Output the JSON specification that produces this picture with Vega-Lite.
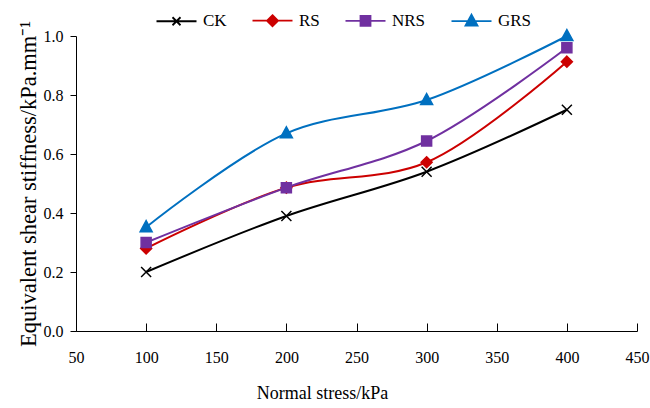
{
  "$schema": "https://vega.github.io/schema/vega-lite/v6.json",
  "width": 561,
  "height": 295,
  "autosize": {"type": "none"},
  "padding": {"left": 76, "top": 36, "right": 13, "bottom": 77},
  "background": "white",
  "config": {
    "view": {"stroke": null},
    "font": "Liberation Serif",
    "axis": {
      "grid": false,
      "domainColor": "#000000",
      "domainWidth": 1,
      "tickColor": "#000000",
      "tickWidth": 1,
      "labelColor": "#000000",
      "titleColor": "#000000",
      "labelFont": "Liberation Serif",
      "titleFont": "Liberation Serif",
      "labelFontSize": 16,
      "titleFontSize": 18,
      "titleFontWeight": "normal"
    },
    "legend": {"labelFont": "Liberation Serif", "labelFontSize": 17, "labelColor": "#000000", "symbolStrokeWidth": 1.8, "symbolOpacity": 1}
  },
  "data": {
    "values": [
      {"stress": 100, "series": "CK", "k": 0.20},
      {"stress": 200, "series": "CK", "k": 0.39},
      {"stress": 300, "series": "CK", "k": 0.54},
      {"stress": 400, "series": "CK", "k": 0.75},
      {"stress": 100, "series": "RS", "k": 0.28},
      {"stress": 200, "series": "RS", "k": 0.486},
      {"stress": 300, "series": "RS", "k": 0.572},
      {"stress": 400, "series": "RS", "k": 0.913},
      {"stress": 100, "series": "NRS", "k": 0.30},
      {"stress": 200, "series": "NRS", "k": 0.486},
      {"stress": 300, "series": "NRS", "k": 0.644},
      {"stress": 400, "series": "NRS", "k": 0.96},
      {"stress": 100, "series": "GRS", "k": 0.352},
      {"stress": 200, "series": "GRS", "k": 0.67},
      {"stress": 300, "series": "GRS", "k": 0.783},
      {"stress": 400, "series": "GRS", "k": 1.0}
    ]
  },
  "encoding": {
    "x": {
      "field": "stress",
      "type": "quantitative",
      "scale": {"domain": [50, 450], "nice": false, "zero": false},
      "axis": {
        "values": [50, 100, 150, 200, 250, 300, 350, 400, 450],
        "tickSize": -8,
        "labelPadding": 26,
        "labelFlush": false,
        "title": "Normal stress/kPa",
        "titleX": 246,
        "titleY": 62,
        "titleBaseline": "middle",
        "titleAnchor": "middle"
      }
    },
    "y": {
      "field": "k",
      "type": "quantitative",
      "scale": {"domain": [0, 1], "nice": false},
      "axis": {
        "values": [0, 0.2, 0.4, 0.6, 0.8, 1.0],
        "format": ".1f",
        "tickSize": 6,
        "labelPadding": 7,
        "title": "Equivalent shear stiffness/kPa.mm⁻¹",
        "titleFontSize": 22.5,
        "titleX": -41,
        "titleBaseline": "alphabetic"
      }
    }
  },
  "layer": [
    {
      "mark": {"type": "line", "interpolate": "catmull-rom", "strokeWidth": 2},
      "encoding": {
        "color": {
          "field": "series",
          "type": "nominal",
          "scale": {"domain": ["CK", "RS", "NRS", "GRS"], "range": ["#000000", "#CC0000", "#7030A0", "#0070C0"]},
          "legend": null
        }
      }
    },
    {
      "mark": {"type": "point", "filled": true, "size": 100, "strokeWidth": 1.5, "opacity": 1},
      "encoding": {
        "color": {
          "field": "series",
          "type": "nominal",
          "scale": {"domain": ["CK", "RS", "NRS", "GRS"], "range": ["#000000", "#CC0000", "#7030A0", "#0070C0"]},
          "legend": null
        },
        "shape": {
          "field": "series",
          "type": "nominal",
          "scale": {
            "domain": ["CK", "RS", "NRS", "GRS"],
            "range": ["M-1,-1L1,1M-1,1L1,-1", "M0,-1.1L1.1,0L0,1.1L-1.1,0Z", "M-1,-1L1,-1L1,1L-1,1Z", "M0,-1.3L1.2,0.9L-1.2,0.9Z"]
          },
          "legend": null
        },
        "stroke": {
          "field": "series",
          "type": "nominal",
          "scale": {"domain": ["CK", "RS", "NRS", "GRS"], "range": ["#000000", "#CC0000", "#7030A0", "#0070C0"]},
          "legend": null
        }
      }
    },
    {
      "transform": [{"filter": "datum.k > 2"}],
      "mark": {"type": "point", "filled": true, "size": 100, "strokeWidth": 1.8, "opacity": 1},
      "encoding": {
        "color": {
          "field": "series",
          "type": "nominal",
          "scale": {"domain": ["CK", "RS", "NRS", "GRS"], "range": ["#000000", "#CC0000", "#7030A0", "#0070C0"]},
          "legend": {"title": null, "orient": "none", "direction": "horizontal", "legendX": 92, "legendY": -24, "symbolSize": 100, "labelOffset": 18, "columnPadding": 21, "gridAlign": "each"}
        },
        "shape": {
          "field": "series",
          "type": "nominal",
          "scale": {
            "domain": ["CK", "RS", "NRS", "GRS"],
            "range": ["M-4,0L4,0M-0.8,-0.8L0.8,0.8M-0.8,0.8L0.8,-0.8", "M-4,0L4,0M0,-1.1L1.1,0L0,1.1L-1.1,0Z", "M-4,0L4,0M-1,-1L1,-1L1,1L-1,1Z", "M-4,0L4,0M0,-1.3L1.2,0.9L-1.2,0.9Z"]
          },
          "legend": {"title": null, "orient": "none", "direction": "horizontal", "legendX": 92, "legendY": -24, "symbolSize": 100, "labelOffset": 18, "columnPadding": 21, "gridAlign": "each"}
        },
        "stroke": {
          "field": "series",
          "type": "nominal",
          "scale": {"domain": ["CK", "RS", "NRS", "GRS"], "range": ["#000000", "#CC0000", "#7030A0", "#0070C0"]},
          "legend": {"title": null, "orient": "none", "direction": "horizontal", "legendX": 92, "legendY": -24, "symbolSize": 100, "labelOffset": 18, "columnPadding": 21, "gridAlign": "each"}
        }
      }
    }
  ],
  "resolve": {
    "scale": {"color": "independent", "shape": "independent", "stroke": "independent"},
    "legend": {"color": "independent", "shape": "independent", "stroke": "independent"}
  }
}
